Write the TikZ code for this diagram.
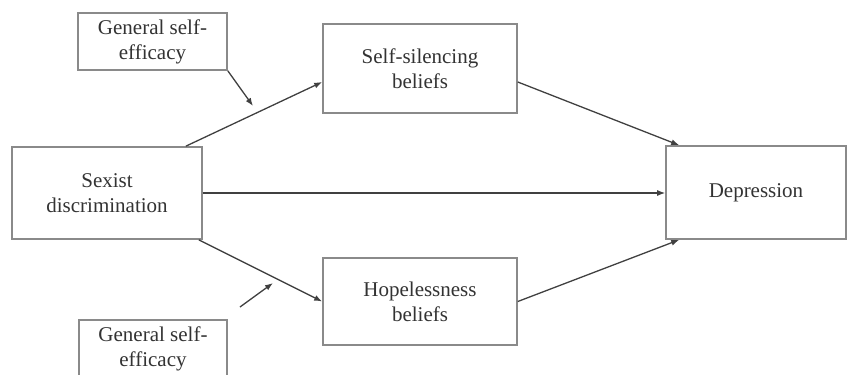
\documentclass[tikz,border=0pt]{standalone}
\usepackage{fontspec}
\setmainfont{Liberation Serif}
\usetikzlibrary{arrows.meta}
\definecolor{boxgray}{HTML}{8A8A8A}
\definecolor{linegray}{HTML}{404040}
\definecolor{textgray}{HTML}{333333}
\tikzset{
  varbox/.style={draw=boxgray, line width=1.6pt, fill=white, text=textgray,
    align=center, inner sep=0pt, font=\fontsize{21}{25}\selectfont},
  path/.style={draw=linegray, line width=1.3pt, -{Latex[length=8pt,width=6pt]}}
}
\begin{document}
\begin{tikzpicture}[x=1pt,y=-1pt]
\useasboundingbox (0,0) rectangle (847,375);
\node[varbox, minimum width=190pt, minimum height=92pt] (sex) at (107,193) {Sexist\\discrimination};
\node[varbox, minimum width=194pt, minimum height=89pt] (ss) at (420,68.5) {Self-silencing\\beliefs};
\node[varbox, minimum width=194pt, minimum height=87pt] (hope) at (420,301.5) {Hopelessness\\beliefs};
\node[varbox, minimum width=180pt, minimum height=93pt] (dep) at (756,192.5) {Depression};
\node[varbox, minimum width=149pt, minimum height=57pt] (gse1) at (152.5,41.5) {General self-\\efficacy};
\node[varbox, minimum width=148pt, minimum height=57pt] (gse2) at (153,348.5) {General self-\\efficacy};
\coordinate (m1) at (253,106);
\coordinate (m2s) at (240,307);
\coordinate (m2e) at (273,283);
\draw[path] ([xshift=-17pt]sex.north east) -- ([yshift=-13.5pt]ss.west);
\draw[path] ([xshift=-4pt]sex.south east) -- (hope.west);
\draw[path] (sex.east) -- (sex.east -| dep.west);
\draw[path] ([yshift=-13.5pt]ss.east) -- ([xshift=14pt]dep.north west);
\draw[path] (hope.east) -- ([xshift=14pt]dep.south west);
\draw[path] (gse1.south east) -- (m1);
\draw[path] (m2s) -- (m2e);
\end{tikzpicture}
\end{document}
